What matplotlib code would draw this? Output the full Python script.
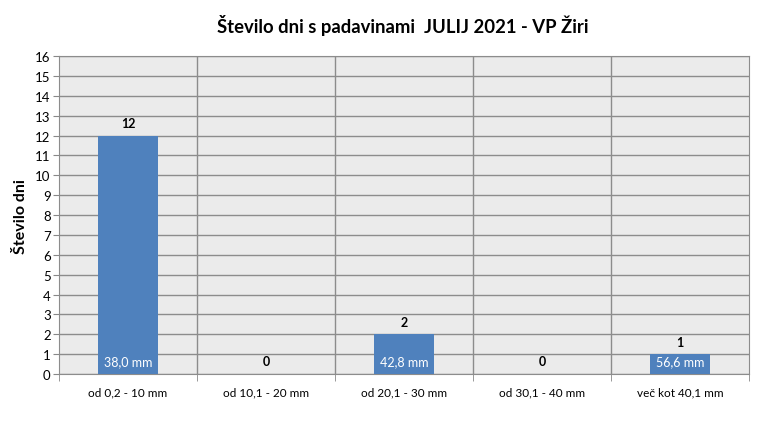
import matplotlib.pyplot as plt

# data
categories = ['od 0,2 - 10 mm', 'od 10,1 - 20 mm', 'od 20,1 - 30 mm',
              'od 30,1 - 40 mm', 'več kot 40,1 mm']
days = [12, 0, 2, 0, 1]
amounts = ['38,0 mm', '', '42,8 mm', '', '56,6 mm']
y_ticks = list(range(0, 17))

plt.rcParams['font.family'] = ['Lato', 'DejaVu Sans']

fig = plt.figure(figsize=(7.7, 4.39), dpi=100)
ax = fig.add_axes([0.0766, 0.1458, 0.8961, 0.7242])
ax.set_facecolor('#ebebeb')

x = list(range(len(categories)))
bars = ax.bar(x, days, width=0.43, color='#4f81bd', zorder=3)

ax.set_xlim(-0.5, len(categories) - 0.5)
ax.set_ylim(0, 16)
ax.set_yticks(y_ticks)
ax.tick_params(axis='y', labelsize=9.5, length=4, color='#888888', pad=2)

# category labels centred, ticks on the boundaries
ax.set_xticks(x)
ax.set_xticklabels(categories, fontsize=8.5)
ax.tick_params(axis='x', length=0, pad=9)
ax.set_xticks([i - 0.5 for i in range(len(categories) + 1)], minor=True)
ax.tick_params(axis='x', which='minor', length=5, color='#888888')

ax.grid(axis='y', color='#8c8c8c', linewidth=1, zorder=1)
for b in range(1, len(categories)):
    ax.axvline(b - 0.5, color='#8c8c8c', linewidth=1, zorder=1)

for side in ['top', 'right', 'left', 'bottom']:
    ax.spines[side].set_color('#8c8c8c')

for i, v in enumerate(days):
    ax.annotate(str(v), (i, v), xytext=(0, 9), textcoords='offset points',
                ha='center', va='center', fontsize=9, fontweight='bold',
                zorder=4)
    if amounts[i]:
        ax.annotate(amounts[i], (i, 0), xytext=(0, 9.5), textcoords='offset points',
                    ha='center', va='center', fontsize=9, color='white',
                    zorder=4)

ax.set_ylabel('Število dni', fontsize=11.5, fontweight='bold', labelpad=5)
fig.suptitle('Število dni s padavinami  JULIJ 2021 - VP Žiri', x=0.523, y=0.965,
             fontsize=13.3, fontweight='bold')

fig.savefig('out.png', dpi=100)
